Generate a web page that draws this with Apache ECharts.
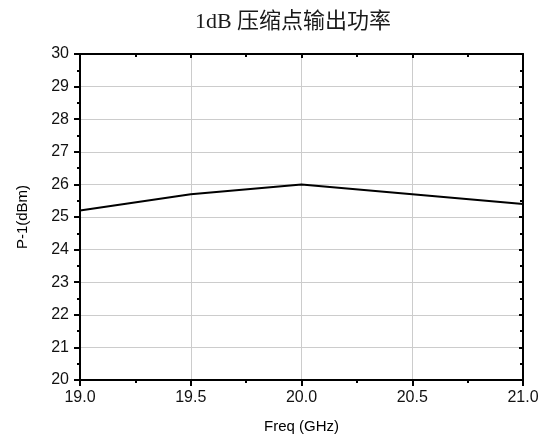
<!DOCTYPE html>
<html>
<head>
<meta charset="utf-8">
<title>1dB 压缩点输出功率</title>
<script src="https://cdn.jsdelivr.net/npm/echarts@6/dist/echarts.min.js"></script>
</head>
<body style="margin:0">
<div id="container" style="width:549px;height:439px;"></div>
<script>
// 频率 (GHz) 与 P-1 (dBm)
var freqs = [19.0, 19.5, 20.0, 20.5, 21.0];
var p1 = [25.2, 25.7, 26.0, 25.7, 25.4];

var points = [];
for (var i = 0; i < freqs.length; i++) {
	points.push([freqs[i], p1[i]]);
}

var black = '#000';
var font = 'Liberation Sans, Arial, sans-serif';

var chart = echarts.init(document.getElementById('container'));
chart.setOption({
	animation: false,
	title: {
		text: '1dB 压缩点输出功率',
		left: 288,
		textAlign: 'center',
		top: 6,
		textStyle: { fontFamily: 'Liberation Serif, Times New Roman, Noto Sans CJK SC, serif', fontSize: 22, fontWeight: 'normal', color: '#1a1a1a' }
	},
	grid: { left: 80, right: 26, top: 54, bottom: 59 },
	xAxis: [{
		type: 'value', min: 19, max: 21, interval: 0.5,
		name: 'Freq (GHz)', nameLocation: 'middle', nameGap: 39,
		nameTextStyle: { fontFamily: font, fontSize: 15, color: black },
		axisLine: { onZero: false, lineStyle: { color: black, width: 2 } },
		axisTick: { show: true, length: 6, lineStyle: { color: black, width: 2 } },
		minorTick: { show: true, splitNumber: 2, length: 3, lineStyle: { color: black, width: 2 } },
		axisLabel: { fontFamily: font, fontSize: 16, color: '#111', margin: 10, formatter: function (v) { return v.toFixed(1); } },
		splitLine: { show: true, lineStyle: { color: '#ccc', width: 1 } }
	}, {
		type: 'value', min: 19, max: 21, interval: 0.5, position: 'top',
		axisLine: { onZero: false, lineStyle: { color: black, width: 2 } },
		axisTick: { show: true, inside: true, length: 4, lineStyle: { color: black, width: 2 } },
		minorTick: { show: true, splitNumber: 2, length: 3, lineStyle: { color: black, width: 2 } },
		axisLabel: { show: false },
		splitLine: { show: false }
	}],
	yAxis: [{
		type: 'value', min: 20, max: 30, interval: 1,
		name: 'P-1(dBm)', nameLocation: 'middle', nameGap: 50, nameRotate: 90,
		nameTextStyle: { fontFamily: font, fontSize: 15, color: black },
		axisLine: { onZero: false, lineStyle: { color: black, width: 2 } },
		axisTick: { show: true, length: 6, lineStyle: { color: black, width: 2 } },
		minorTick: { show: true, splitNumber: 2, length: 3, lineStyle: { color: black, width: 2 } },
		axisLabel: { fontFamily: font, fontSize: 16, color: '#111', margin: 11 },
		splitLine: { show: true, lineStyle: { color: '#ccc', width: 1 } }
	}, {
		type: 'value', min: 20, max: 30, interval: 1, position: 'right',
		axisLine: { onZero: false, lineStyle: { color: black, width: 2 } },
		axisTick: { show: true, inside: true, length: 4, lineStyle: { color: black, width: 2 } },
		minorTick: { show: true, splitNumber: 2, length: 3, lineStyle: { color: black, width: 2 } },
		axisLabel: { show: false },
		splitLine: { show: false }
	}],
	series: [{
		type: 'line',
		data: points,
		showSymbol: false,
		lineStyle: { color: black, width: 2 },
		z: 5
	}]
});
</script>
</body>
</html>
